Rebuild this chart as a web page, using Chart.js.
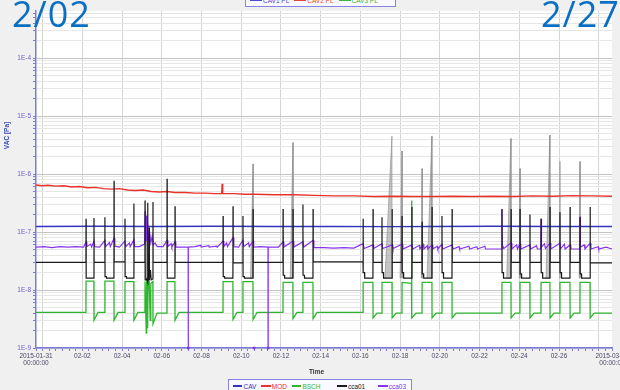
<!DOCTYPE html>
<html><head><meta charset="utf-8">
<script src="https://cdn.jsdelivr.net/npm/chart.js@4.4.1/dist/chart.umd.min.js"></script>
<style>
html,body{margin:0;padding:0;background:#f0f0f0;}
#wrap{position:relative;width:620px;height:390px;overflow:hidden;background:#f0f0f0;}
#c{position:absolute;left:0;top:0;}
.big{position:absolute;top:-4px;font-family:"Open Sans",sans-serif;font-size:36px;line-height:36px;color:#0a6fc2;letter-spacing:1px;white-space:nowrap;}
.lg{position:absolute;border:1px solid #8484e0;background:#f9f9ff;font-family:"Liberation Sans Narrow","Liberation Sans",sans-serif;font-size:6.5px;white-space:nowrap;display:flex;align-items:center;padding:0 2px;box-sizing:border-box;}
.lg .ln{display:inline-block;width:12px;height:1.5px;margin:0 1px 0 2px;}
.lg .tx{margin-right:3px;}
.ttl{position:absolute;font-family:"Liberation Sans Narrow","Liberation Sans",sans-serif;font-size:6.5px;font-weight:bold;white-space:nowrap;}
</style></head>
<body><div id="wrap">
<canvas id="c" width="620" height="390"></canvas>
<div class="lg" style="left:245px;top:-6px;width:151px;height:13px;">
 <span class="ln" style="background:#4a4ad0"></span><span class="tx" style="color:#4a4ad0">CAV1 PL</span>
 <span class="ln" style="background:#e8483c"></span><span class="tx" style="color:#e8483c">CAV2 PL</span>
 <span class="ln" style="background:#3cb43c"></span><span class="tx" style="color:#3cb43c">CAV3 PL</span>
</div>
<div class="lg" style="left:228px;top:379px;width:184px;height:14px;">
 <span class="ln" style="background:#3333bb"></span><span class="tx" style="color:#3333bb">CAV</span>
 <span class="ln" style="background:#e8322a"></span><span class="tx" style="color:#e8322a">MOD</span>
 <span class="ln" style="background:#2fb52f"></span><span class="tx" style="color:#2fb52f">BSCH</span>
 <span class="ln" style="background:#1a1a1a;margin-left:14px"></span><span class="tx" style="color:#1a1a1a">cca01</span>
 <span class="ln" style="background:#8833ee;margin-left:10px"></span><span class="tx" style="color:#8833ee">cca03</span>
</div>
<div class="ttl" style="left:309px;top:368px;color:#333;">Time</div>
<div class="ttl" style="left:-7px;top:132px;color:#3a50b0;transform:rotate(-90deg);">VAC [Pa]</div>
<div class="big" style="left:12px;">2/02</div>
<div class="big" style="left:541px;">2/27</div>
</div>
<script>
// x values: days since 2015-01-31 00:00:00
const xGridDays = [0.333,2.333,4.333,6.333,8.333,10.333,12.333,14.333,16.333,18.333,20.333,22.333,24.333,26.333,28.333];
const xGridLabels = ['', '02-02','02-04','02-06','02-08','02-10','02-12','02-14','02-16','02-18','02-20','02-22','02-24','02-26',''];
const xStartLabel = ['2015-01-31','00:00:00'];
const xEndLabel = ['2015-03-01','00:00:00'];
const yDecades = [-9,-8,-7,-6,-5,-4];
const yTickLabels = ['1E-9','1E-8','1E-7','1E-6','1E-5','1E-4'];

// work-day pulses (start / end, days)
const pulseStart = [2.52,3.47,4.48,5.49,6.60,9.42,10.42,12.44,13.44,16.47,17.42,18.43,19.44,20.44,23.46,24.37,25.43,26.38,27.39];
const pulseEnd   = [2.92,3.93,4.93,5.89,7.00,9.92,10.93,12.94,13.95,16.97,17.93,18.93,19.94,20.95,23.92,24.87,25.88,26.89,27.90];

// cca01 (black)
const cca01Base  = [3.0e-8,3.0e-8,3.05e-8,3.0e-8,3.0e-8,3.0e-8,2.95e-8,3.0e-8,3.0e-8,3.05e-8,3.0e-8,3.0e-8,3.0e-8,3.0e-8,3.0e-8,3.0e-8,3.0e-8,3.0e-8,3.0e-8,2.95e-8];
const cca01Peak1 = [1.7e-7,1.8e-7,1.7e-7,3.5e-7,8.3e-7,1.9e-7,1.9e-7,2.5e-7,3.0e-7,1.7e-7,1.8e-7,1.9e-7,1.5e-7,1.9e-7,2.5e-7,2.5e-7,1.7e-7,2.2e-7,1.8e-7];
const cca01Peak2 = [1.75e-7,7.7e-7,3.1e-7,3.3e-7,2.8e-7,2.8e-7,2.5e-7,2.5e-7,2.5e-7,2.5e-7,2.5e-7,2.7e-7,2.7e-7,2.5e-7,2.5e-7,2.0e-7,2.7e-7,2.7e-7,2.7e-7];
const cca01LowStart = [1.6e-8,1.7e-8,1.7e-8,1.5e-8,1.6e-8,1.7e-8,1.7e-8,1.8e-8,1.8e-8,2.0e-8,2.0e-8,2.0e-8,1.9e-8,2.0e-8,2.0e-8,1.9e-8,2.0e-8,2.0e-8,1.9e-8];
const cca01Low   = [1.6e-8,1.6e-8,1.6e-8,1.55e-8,1.6e-8,1.6e-8,1.6e-8,1.6e-8,1.6e-8,1.6e-8,1.6e-8,1.6e-8,1.6e-8,1.6e-8,1.6e-8,1.6e-8,1.6e-8,1.6e-8,1.6e-8];
const cca01Extra = {3: [[5.60,1.5e-8],[5.62,3.2e-7],[5.635,1.4e-8],[5.68,1.6e-8],[5.70,1.2e-7],[5.71,1.5e-8],[5.76,2.2e-8],[5.80,1.5e-8]]};
// grey dense bursts of cca01: [start, peak time, peak value]
const cca01Bursts = [[5.50,5.60,2.0e-7],[10.80,10.93,1.5e-6],[12.80,12.94,3.5e-6],[17.57,17.92,4.5e-6],[18.33,18.43,2.5e-6],[19.40,19.44,1.25e-6],[19.69,19.93,4.5e-6],[23.70,23.91,4.1e-6],[24.33,24.37,1.25e-6],[25.68,25.87,4.7e-6],[26.34,26.38,1.65e-6],[27.35,27.39,1.65e-6]];

// BSCH (green)
const bschBase = [4.1e-9,4.1e-9,4.1e-9,4.1e-9,4.0e-9,4.1e-9,4.1e-9,4.1e-9,4.1e-9,4.1e-9,4.0e-9,4.0e-9,4.0e-9,4.0e-9,4.0e-9,4.0e-9,4.0e-9,4.0e-9,4.0e-9,4.0e-9];
const bschHigh = [1.42e-8,1.42e-8,1.4e-8,1.4e-8,1.4e-8,1.4e-8,1.4e-8,1.35e-8,1.35e-8,1.35e-8,1.35e-8,1.35e-8,1.35e-8,1.35e-8,1.35e-8,1.35e-8,1.35e-8,1.35e-8,1.35e-8];
const bschDip  = [3.0e-9,3.0e-9,3.0e-9,2.6e-9,3.0e-9,3.1e-9,3.1e-9,3.2e-9,3.2e-9,3.3e-9,3.3e-9,3.3e-9,3.3e-9,3.3e-9,3.3e-9,3.3e-9,3.3e-9,3.3e-9,3.3e-9];
const bschExtra = {3: [[5.55,1.8e-9],[5.57,1.6e-8],[5.62,2.2e-9],[5.65,2.0e-8],[5.70,1.4e-8],[5.75,3.0e-9],[5.78,1.3e-8]],
                   11: [[18.90,1.3e-8],[18.905,3.5e-7],[18.91,1.3e-8]]};

// CAV (navy)
const cavData = [[0,1.25e-7],[3,1.26e-7],[6,1.25e-7],[9,1.26e-7],[12,1.25e-7],[15,1.25e-7],[18,1.24e-7],[20,1.25e-7],[23,1.26e-7],[26,1.25e-7],[29,1.25e-7]];

// MOD (red)
const modData = [[0,6.5e-7],[0.3,6.3e-7],[0.6,6.4e-7],[1,6.2e-7],[1.4,6.3e-7],[1.8,6.0e-7],[2.2,6.1e-7],[2.6,5.8e-7],[3,5.9e-7],[3.4,5.6e-7],[3.8,5.5e-7],[4.2,5.6e-7],[4.6,5.3e-7],[5,5.2e-7],[5.4,5.3e-7],[5.8,5.0e-7],[6.2,4.9e-7],[6.6,5.0e-7],[7,4.8e-7],[7.5,4.8e-7],[8,4.7e-7],[8.5,4.7e-7],[9,4.6e-7],[9.35,4.6e-7],[9.37,6.8e-7],[9.40,4.6e-7],[10,4.6e-7],[10.5,4.5e-7],[11,4.5e-7],[12,4.4e-7],[13,4.4e-7],[14,4.3e-7],[15,4.2e-7],[16,4.2e-7],[17,4.1e-7],[18,4.15e-7],[19,4.1e-7],[20,4.1e-7],[21,4.15e-7],[22,4.1e-7],[23,4.15e-7],[24,4.1e-7],[25,4.2e-7],[26,4.15e-7],[27,4.25e-7],[28,4.2e-7],[29,4.15e-7]];

// cca03 (purple)
const cca03Data = [
[0,5.5e-8],[0.4,5.6e-8],[0.8,5.4e-8],[1.2,5.6e-8],[1.6,5.5e-8],[2.0,5.6e-8],[2.4,5.5e-8],
[2.52,6.8e-8],[2.56,5.6e-8],[2.75,6.2e-8],[2.8,5.5e-8],[2.92,7.0e-8],[2.96,5.6e-8],
[3.2,5.5e-8],[3.47,7.2e-8],[3.5,5.6e-8],[3.7,6.6e-8],[3.74,5.6e-8],[3.93,7.8e-8],[3.97,5.7e-8],
[4.2,5.5e-8],[4.48,7.0e-8],[4.52,5.6e-8],[4.7,6.5e-8],[4.74,5.6e-8],[4.93,7.4e-8],[4.97,5.6e-8],
[5.2,5.6e-8],[5.47,6.2e-8],[5.49,2.3e-7],[5.51,6.5e-8],[5.54,1.9e-7],[5.57,7.0e-8],[5.62,1.4e-7],[5.66,7.5e-8],[5.72,1.0e-7],[5.78,6.5e-8],[5.85,8.5e-8],[5.9,6.0e-8],[6.0,6.5e-8],[6.1,5.6e-8],
[6.4,5.6e-8],[6.6,7.2e-8],[6.64,5.6e-8],[6.8,6.3e-8],[6.84,5.5e-8],[7.0,6.8e-8],[7.04,5.5e-8],
[7.3,5.5e-8],[7.66,5.5e-8],[7.665,1e-9],[7.67,5.5e-8],[8.0,5.6e-8],[8.3,5.9e-8],[8.32,5.5e-8],[8.7,5.8e-8],[8.72,5.5e-8],[9.1,5.7e-8],[9.12,5.5e-8],
[9.42,7.0e-8],[9.46,5.6e-8],[9.6,6.5e-8],[9.64,5.6e-8],[9.92,8.0e-8],[9.96,5.6e-8],
[10.2,5.5e-8],[10.42,7.2e-8],[10.46,5.6e-8],[10.7,6.5e-8],[10.74,5.6e-8],[10.93,7.0e-8],[10.96,5.5e-8],[10.975,null],[10.98,1e-9],[10.985,null],[10.99,5.5e-8],
[11.3,5.6e-8],[11.68,5.5e-8],[11.685,1e-9],[11.69,5.5e-8],[12.0,5.5e-8],
[12.2,5.5e-8],[12.44,6.8e-8],[12.48,5.5e-8],[12.94,7.0e-8],[12.98,5.5e-8],[13.44,6.8e-8],[13.48,5.5e-8],[13.95,7.2e-8],[13.99,5.4e-8],
[14.5,5.4e-8],[15,5.3e-8],[15.5,5.4e-8],[16,5.3e-8],[16.47,6.3e-8],[16.52,5.2e-8],[16.97,6.0e-8],[17.0,5.2e-8],[17.42,6.3e-8],[17.46,5.2e-8],[17.93,6.0e-8],[17.97,5.2e-8],
[18.43,6.2e-8],[18.47,5.1e-8],[18.93,6.0e-8],[18.97,5.1e-8],[19.3,5.9e-8],[19.33,5.1e-8],[19.5,6.1e-8],[19.53,5.1e-8],[19.7,5.8e-8],[19.73,5.1e-8],[19.94,6.0e-8],[19.98,5.1e-8],
[20.2,5.7e-8],[20.23,5.1e-8],[20.44,6.2e-8],[20.48,5.1e-8],[20.95,6.0e-8],[21.0,5.1e-8],[21.3,5.6e-8],[21.33,5.1e-8],[21.8,5.7e-8],[21.83,5.1e-8],[22.2,5.6e-8],[22.23,5.1e-8],[22.6,5.7e-8],[22.63,5.1e-8],
[23.0,5.1e-8],[23.445,5.1e-8],[23.46,2.5e-7],[23.48,6.0e-8],[23.55,5.2e-8],[23.92,6.5e-8],[23.96,5.1e-8],[24.2,6e-8],[24.24,5.1e-8],[24.37,6.3e-8],[24.41,5.1e-8],[24.87,6.0e-8],[24.9,5.1e-8],
[25.2,5.8e-8],[25.24,5.1e-8],[25.415,5.1e-8],[25.43,1.7e-7],[25.45,5.5e-8],[25.6,6.3e-8],[25.65,5.2e-8],[25.88,6.5e-8],[25.92,5.1e-8],[26.38,6.4e-8],[26.42,5.2e-8],[26.6,6.2e-8],[26.64,5.1e-8],[26.89,6.0e-8],[26.93,5.1e-8],
[27.375,5.1e-8],[27.39,1.85e-7],[27.41,5.5e-8],[27.6,6.0e-8],[27.64,5.1e-8],[27.9,6.4e-8],[27.94,5.1e-8],[28.3,5.6e-8],[28.33,5.1e-8],[28.7,5.5e-8],[29,5.1e-8]];

// ---------- build library data ----------
const EDGE = 0.006;
function buildCca01(){
  const p=[{x:0,y:cca01Base[0]}];
  pulseStart.forEach((s,i)=>{
    const e=pulseEnd[i];
    p.push({x:s-EDGE,y:cca01Base[i]},{x:s,y:cca01Peak1[i]},{x:s+EDGE,y:cca01LowStart[i]},{x:s+0.07,y:cca01LowStart[i]},{x:s+0.08,y:cca01Low[i]});
    (cca01Extra[i]||[]).forEach(([x,y])=>p.push({x,y}));
    p.push({x:e-EDGE,y:cca01Low[i]},{x:e,y:cca01Peak2[i]},{x:e+EDGE,y:cca01Base[i+1]});
  });
  p.push({x:29,y:cca01Base[cca01Base.length-1]});
  return p;
}
function buildBursts(){
  const p=[];
  cca01Bursts.forEach(([a,b,v])=>{p.push({x:a,y:1.6e-8},{x:b,y:v},{x:b+0.004,y:1.6e-8},{x:b+0.005,y:null});});
  return p;
}
function buildBsch(){
  const p=[{x:0,y:bschBase[0]}];
  pulseStart.forEach((s,i)=>{
    const e=pulseEnd[i];
    p.push({x:s-EDGE,y:bschBase[i]},{x:s,y:bschHigh[i]});
    (bschExtra[i]||[]).forEach(([x,y])=>p.push({x,y}));
    p.push({x:e-EDGE,y:bschHigh[i]},{x:e,y:bschDip[i]},{x:e+0.2,y:bschBase[i+1]});
  });
  p.push({x:29,y:bschBase[bschBase.length-1]});
  return p;
}
const pairs = a => a.map(([x,y])=>({x,y}));

// ticks
const xTicks=[];
xTicks.push({value:0,txt:xStartLabel,grid:false});
for(let k=1;k<87;k++){
  const v=k/3;
  const gi=xGridDays.findIndex(g=>Math.abs(g-v)<0.01);
  if(gi>=0) xTicks.push({value:xGridDays[gi],txt:xGridLabels[gi],grid:true});
  else xTicks.push({value:v,txt:'',grid:false});
}
xTicks.push({value:29,txt:xEndLabel,grid:false});
const yTicks=[];
yDecades.forEach((d,di)=>{
  for(let m=1;m<=9;m++){
    const v=Number(m+'e'+d);
    if(v<=6.5e-4) yTicks.push({value:v,txt:m===1?yTickLabels[di]:'',major:m===1});
  }
});

const bgPlugin={id:'bg',beforeDraw(chart){const {ctx,chartArea:a}=chart;ctx.save();ctx.fillStyle='#f0f0f0';ctx.fillRect(0,0,chart.width,chart.height);ctx.fillStyle='#ffffff';ctx.fillRect(a.left,a.top,a.right-a.left,a.bottom-a.top);ctx.restore();}};
const AX='#7b7bdc';
const tickFont={family:'"Liberation Sans Narrow","Liberation Sans",sans-serif',size:6.5};

new Chart(document.getElementById('c'),{
  type:'line',
  data:{datasets:[
    {label:'cca01 burst',data:buildBursts(),borderColor:'rgba(140,140,140,0.8)',backgroundColor:'rgba(150,150,150,0.55)',borderWidth:0.8,fill:{value:1.6e-8},spanGaps:false,order:9},
    {label:'BSCH',data:buildBsch(),borderColor:'#2fb52f',borderWidth:1.3,order:8},
    {label:'MOD',data:pairs(modData),borderColor:'#e8322a',borderWidth:1.4,order:7},
    {label:'CAV',data:pairs(cavData),borderColor:'#3333bb',borderWidth:1.4,order:6},
    {label:'cca03',data:pairs(cca03Data),borderColor:'#8833ee',backgroundColor:'#8833ee',borderWidth:1.2,spanGaps:false,clip:3,
      pointRadius:c=>(c.raw&&c.raw.y!==null&&c.raw.y<=1e-9)?1.8:0,pointStyle:'rect',pointBorderWidth:0,order:5},
    {label:'cca01',data:buildCca01(),borderColor:'#1a1a1a',borderWidth:1.2,order:4}
  ]},
  options:{
    responsive:false,animation:false,devicePixelRatio:1,
    layout:{padding:{top:11,right:8,left:0,bottom:0}},
    plugins:{legend:{display:false},tooltip:{enabled:false}},
    elements:{point:{radius:0},line:{tension:0}},
    scales:{
      x:{type:'linear',min:0,max:29,
        afterBuildTicks(s){s.ticks=xTicks.map(t=>Object.assign({},t));},
        afterFit(s){s.height=42;s.paddingLeft=0;s.paddingRight=0;},
        grid:{color:c=>(c.tick&&c.tick.grid)?'#d4d4d4':'rgba(0,0,0,0)',tickColor:AX,tickLength:3,lineWidth:1},
        border:{color:AX,width:1.5},
        ticks:{autoSkip:false,maxRotation:0,minRotation:0,padding:1,font:tickFont,color:'#4a4a66',callback:(v,i,t)=>t[i].txt}
      },
      y:{type:'logarithmic',min:1e-9,max:6.5e-4,
        afterBuildTicks(s){s.ticks=yTicks.map(t=>Object.assign({},t));},
        afterFit(s){s.width=36;s.paddingTop=0;s.paddingBottom=0;},
        grid:{color:c=>(c.tick&&c.tick.major)?'#c4c4c4':'#e6e6e6',tickColor:AX,tickLength:3,lineWidth:1},
        border:{color:AX,width:1.5},
        ticks:{autoSkip:false,padding:2,font:tickFont,color:'#6f63c9',callback:(v,i,t)=>t[i].txt}
      }
    }
  },
  plugins:[bgPlugin]
});
</script>
</body></html>
